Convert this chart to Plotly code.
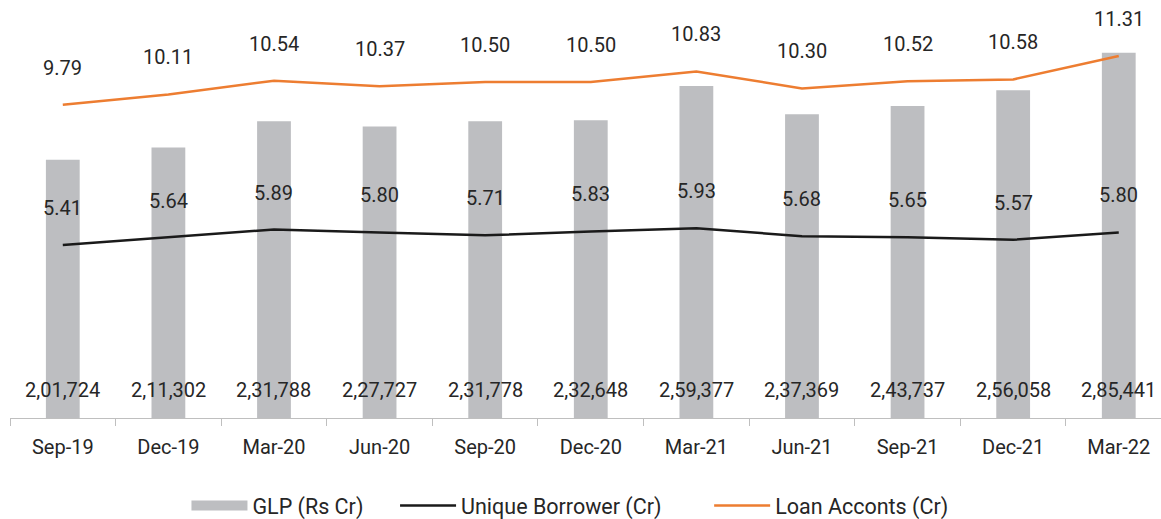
import plotly.graph_objects as go
from plotly.subplots import make_subplots

# ---- data ----
quarters = ["Sep-19", "Dec-19", "Mar-20", "Jun-20", "Sep-20", "Dec-20",
            "Mar-21", "Jun-21", "Sep-21", "Dec-21", "Mar-22"]
glp = [201724, 211302, 231788, 227727, 231778, 232648,
       259377, 237369, 243737, 256058, 285441]
unique_borrowers = [5.41, 5.64, 5.89, 5.80, 5.71, 5.83, 5.93, 5.68, 5.65, 5.57, 5.80]
loan_accounts = [9.79, 10.11, 10.54, 10.37, 10.50, 10.50, 10.83, 10.30, 10.52, 10.58, 11.31]
series_names = ["GLP (Rs Cr)", "Unique Borrower (Cr)", "Loan Acconts (Cr)"]


def indian_fmt(n):
    s = str(int(n))
    if len(s) <= 3:
        return s
    last3 = s[-3:]
    rest = s[:-3]
    parts = []
    while len(rest) > 2:
        parts.insert(0, rest[-2:])
        rest = rest[:-2]
    if rest:
        parts.insert(0, rest)
    return ",".join(parts) + "," + last3


FONT = "Roboto"
TXT = "#262626"
FS = 20
LFS = 21.5
GRAY = "#BDBEC1"

fig = make_subplots(specs=[[{"secondary_y": True}]])

fig.add_trace(go.Bar(x=quarters, y=glp, name=series_names[0], showlegend=False,
                     marker=dict(color=GRAY, line=dict(width=0)),
                     width=0.32), secondary_y=False)
# legend entry for bars drawn as a wide swatch
fig.add_trace(go.Scatter(x=[None], y=[None], name=series_names[0] + "\u00a0" * 5,
                         mode="lines", line=dict(color=GRAY, width=14)), secondary_y=False)
fig.add_trace(go.Scatter(x=quarters, y=unique_borrowers, name=series_names[1] + "\u00a0" * 8,
                         mode="lines", line=dict(color="#1A1A1A", width=2.5)),
              secondary_y=True)
fig.add_trace(go.Scatter(x=quarters, y=loan_accounts, name=series_names[2],
                         mode="lines", line=dict(color="#ED7D31", width=2.5)),
              secondary_y=True)

annotations = []
for q, v in zip(quarters, glp):
    annotations.append(dict(x=q, y=0, xref="x", yref="y", text=indian_fmt(v),
                            showarrow=False, yanchor="middle", yshift=28,
                            font=dict(family=FONT, size=FS, color=TXT)))
for series in (unique_borrowers, loan_accounts):
    for q, v in zip(quarters, series):
        annotations.append(dict(x=q, y=v, xref="x", yref="y2", text=f"{v:.2f}",
                                showarrow=False, yanchor="middle", yshift=37,
                                font=dict(family=FONT, size=FS, color=TXT)))

fig.update_layout(
    width=1161, height=519,
    margin=dict(l=10, r=0, t=34, b=101, autoexpand=False),
    paper_bgcolor="white", plot_bgcolor="white",
    font=dict(family=FONT, size=FS, color=TXT),
    showlegend=True,
    legend=dict(orientation="h", x=0.4865, xanchor="center", y=-0.228, yanchor="middle",
                font=dict(family=FONT, size=LFS, color=TXT), itemwidth=56,
                bgcolor="rgba(0,0,0,0)"),
    annotations=annotations,
)
fig.update_xaxes(type="category", domain=[0, 1], range=[-0.5, 10.4], showline=True,
                 linecolor="#BFBFBF", linewidth=1, ticks="outside", tickson="boundaries",
                 ticklen=7, tickcolor="#BFBFBF", showgrid=False, zeroline=False,
                 ticklabelstandoff=11, automargin=False,
                 tickfont=dict(family=FONT, size=FS, color=TXT))
fig.update_yaxes(range=[0, 300000], visible=False, showgrid=False, zeroline=False,
                 secondary_y=False)
fig.update_yaxes(range=[0, 12], visible=False, showgrid=False, zeroline=False,
                 secondary_y=True)

fig.write_html("out.html")
